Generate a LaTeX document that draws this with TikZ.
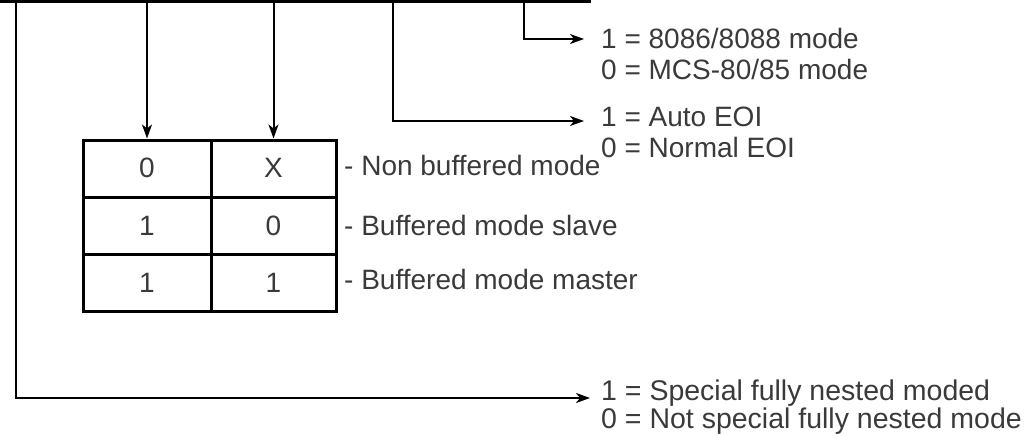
\documentclass[tikz,border=0pt]{standalone}
\usepackage{fontspec}
\setmainfont{Liberation Sans}
\usetikzlibrary{arrows.meta}
\definecolor{txt}{HTML}{3A3A3A}
\begin{document}
\begin{tikzpicture}[x=1pt,y=-1pt,
  every node/.style={font=\fontsize{28}{31}\selectfont, text=txt},
  arr/.style={-{Stealth[length=14pt,width=10pt,inset=4pt]}, line width=2pt, black},
  cellbox/.style={draw=black, line width=3pt, minimum height=57pt, inner sep=0pt},
  lbl/.style={anchor=base west, align=left, inner sep=0pt},
  rowlbl/.style={anchor=base west, inner sep=0pt}]
\useasboundingbox (0,0) rectangle (1033,436);
% table cells
\node[cellbox, minimum width=128pt] (c11) at (147,168.5) {};
\node[cellbox, minimum width=125pt] (c12) at (273.5,168.5) {};
\node[cellbox, minimum width=128pt] (c21) at (147,225.5) {};
\node[cellbox, minimum width=125pt] (c22) at (273.5,225.5) {};
\node[cellbox, minimum width=128pt] (c31) at (147,282.5) {};
\node[cellbox, minimum width=125pt] (c32) at (273.5,282.5) {};
\node[anchor=base, inner sep=0pt] at (147,177) {0};
\node[anchor=base, inner sep=0pt] at (273.5,177) {X};
\node[anchor=base, inner sep=0pt] at (147,235) {1};
\node[anchor=base, inner sep=0pt] at (273.5,235) {0};
\node[anchor=base, inner sep=0pt] at (147,292) {1};
\node[anchor=base, inner sep=0pt] at (273.5,292) {1};
% row labels
\node[rowlbl] (r1) at (344,175) {- Non buffered mode};
\node[rowlbl] (r2) at (344,235) {- Buffered mode slave};
\node[rowlbl] (r3) at (344,289) {- Buffered mode master};
% right labels (base anchor = baseline of last line)
\node[lbl] (l1) at (601,79) {1 = 8086/8088 mode\\0 = MCS-80/85 mode};
\node[lbl] (l2) at (601,157) {1 = Auto EOI\\0 = Normal EOI};
\node[lbl, font=\fontsize{28.5}{24}\selectfont] (l3) at (601,428) {1 = Special fully nested moded\\0 = Not special fully nested mode};
% bus
\coordinate (b0) at (0,1.5);
\coordinate (b1) at (591,1.5);
\draw[line width=3pt] (b0) -- (b1);
\coordinate (t1) at (16,1.5);
\coordinate (t2) at (147,1.5);
\coordinate (t3) at (273.5,1.5);
\coordinate (t4) at (393,1.5);
\coordinate (t5) at (524,1.5);
\coordinate (e1) at (584,39);
\coordinate (e2) at (584,121);
\coordinate (e3) at (590,398);
\draw[arr] (t5) |- (e1);
\draw[arr] (t4) |- (e2);
\draw[arr] (t1) |- (e3);
\draw[arr] (t2) -- (c11.north);
\draw[arr] (t3) -- (c12.north);
\end{tikzpicture}
\end{document}
